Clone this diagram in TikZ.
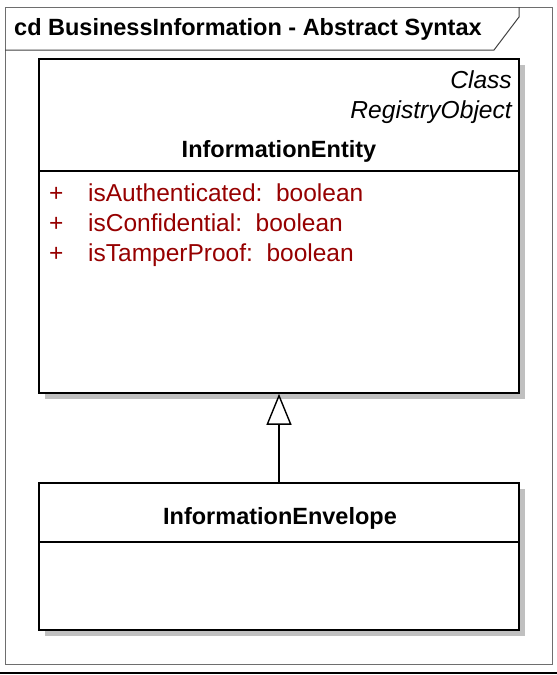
\documentclass[tikz,border=0pt]{standalone}
\usepackage{fontspec}
\setmainfont{Liberation Sans}
\usetikzlibrary{arrows.meta,shadows}
\definecolor{attrred}{RGB}{150,0,0}
\definecolor{framegray}{RGB}{110,110,110}
\definecolor{shadowgray}{RGB}{192,192,192}
\tikzset{
  classbox/.style={draw=black, line width=1.6pt, fill=white, minimum width=480pt,
    inner sep=0pt, drop shadow={shadow xshift=6pt, shadow yshift=-6pt, fill=shadowgray, opacity=1}},
  divider/.style={draw=black, line width=1.6pt},
  bigtxt/.style={font=\fontsize{23.5}{27}\selectfont, inner sep=0pt},
  nametxt/.style={bigtxt, font=\fontsize{23.5}{27}\selectfont\bfseries},
  stereo/.style={bigtxt, font=\fontsize{24.6}{28}\selectfont\itshape},
  attr/.style={bigtxt, font=\fontsize{24.5}{28}\selectfont, text=attrred},
  generalization/.style={line width=1.4pt, -{Triangle[open, length=31pt, width=25pt, line width=1.4pt]}}
}
\begin{document}
\begin{tikzpicture}[x=1pt,y=-1pt]
  \useasboundingbox (0,0) rectangle (557,675);
  \fill[white] (0,0) rectangle (557,675);

  % diagram frame with its name tab
  \draw[framegray, line width=1pt] (5,7) rectangle (552,664);
  \draw[framegray!60!black, line width=1pt] (5,50) -- (494,50) -- (519,17) -- (519,7);
  \node[nametxt, anchor=base west] (title) at (14,35) {cd BusinessInformation - Abstract Syntax};

  % class InformationEntity
  \node[classbox, minimum height=334pt] (ent) at (279,226) {};
  \draw[divider] (ent.west |- 0,171) -- (ent.east |- 0,171);
  \node[stereo, anchor=base east] (stclass) at (512,88) {Class};
  \node[stereo, anchor=base east] (stbase) at (512,118) {RegistryObject};
  \node[nametxt, anchor=base] (entname) at (279,157) {InformationEntity};
  \node[attr, anchor=base west] (p1) at (49,201) {+};
  \node[attr, anchor=base west] (a1) at (88,201) {isAuthenticated:\ \ boolean};
  \node[attr, anchor=base west] (p2) at (49,231) {+};
  \node[attr, anchor=base west] (a2) at (88,231) {isConfidential:\ \ boolean};
  \node[attr, anchor=base west] (p3) at (49,261) {+};
  \node[attr, anchor=base west] (a3) at (88,261) {isTamperProof:\ \ boolean};

  % class InformationEnvelope
  \node[classbox, minimum height=147pt] (env) at (279,556.5) {};
  \draw[divider] (env.west |- 0,542) -- (env.east |- 0,542);
  \node[nametxt, anchor=base] (envname) at (280,524) {InformationEnvelope};

  % generalization
  \draw[generalization] (env.north) -- (ent.south);

  % rule along the lower edge
  \draw[black, line width=2pt] (0,673) -- (557,673);
\end{tikzpicture}
\end{document}
